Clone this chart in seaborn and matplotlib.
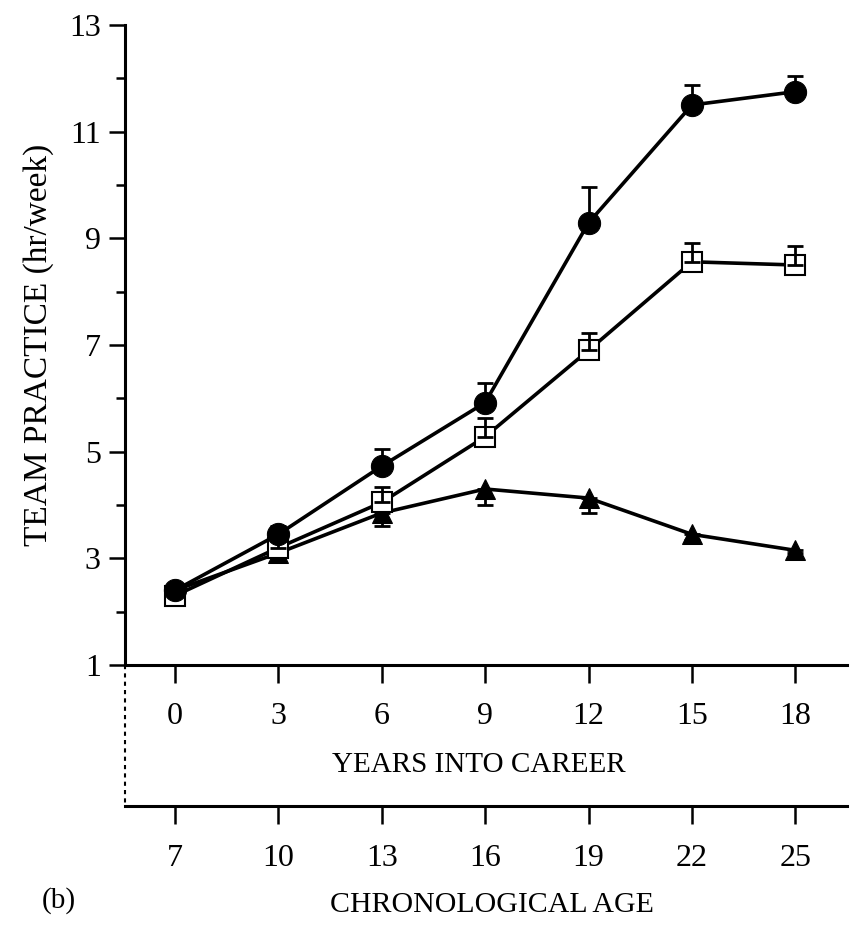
import matplotlib
matplotlib.use("Agg")
import matplotlib.pyplot as plt
import seaborn as sns
import pandas as pd

# Data
years = [0, 3, 6, 9, 12, 15, 18]
age_offset = 7
circles = [2.4, 3.45, 4.73, 5.92, 9.29, 11.5, 11.75]
circles_err_up = [0.1, 0.15, 0.32, 0.37, 0.67, 0.37, 0.3]
squares = [2.3, 3.2, 4.05, 5.28, 6.9, 8.56, 8.5]
squares_err_up = [0.1, 0.12, 0.28, 0.35, 0.33, 0.35, 0.36]
triangles = [2.4, 3.1, 3.85, 4.3, 4.13, 3.45, 3.15]
triangles_err_down = [0.1, 0.1, 0.25, 0.3, 0.28, 0.1, 0.05]

sns.set_style("ticks")
plt.rcParams["font.family"] = ["Liberation Serif", "DejaVu Serif"]
plt.rcParams["text.color"] = "black"
plt.rcParams["axes.labelcolor"] = "black"
plt.rcParams["xtick.color"] = "black"
plt.rcParams["ytick.color"] = "black"

W, H = 853, 925
fig = plt.figure(figsize=(W / 100, H / 100), dpi=100)
left, right, top, bottom = 125, 847, 25, 665
ax = fig.add_axes([left / W, 1 - bottom / H, (right - left) / W, (bottom - top) / H])

df = pd.DataFrame({"years": years, "circles": circles, "squares": squares, "triangles": triangles})

# Lines and markers
sns.lineplot(data=df, x="years", y="triangles", ax=ax, color="black", lw=2.6,
             marker="^", markersize=14, markeredgecolor="black", zorder=3)
sns.lineplot(data=df, x="years", y="squares", ax=ax, color="black", lw=2.6,
             marker="s", markersize=14, markerfacecolor="white", markeredgecolor="black",
             markeredgewidth=1.5, zorder=4)
sns.lineplot(data=df, x="years", y="circles", ax=ax, color="black", lw=2.6,
             marker="o", markersize=16, markeredgecolor="black", zorder=5)

# One-sided error bars
zeros = [0] * len(years)
ax.errorbar(years, circles, yerr=[zeros, circles_err_up], fmt="none", ecolor="black",
            elinewidth=2, capsize=6, capthick=2, zorder=5)
ax.errorbar(years, squares, yerr=[zeros, squares_err_up], fmt="none", ecolor="black",
            elinewidth=2, capsize=6, capthick=2, zorder=4)
ax.errorbar(years, triangles, yerr=[triangles_err_down, zeros], fmt="none", ecolor="black",
            elinewidth=2, capsize=6, capthick=2, zorder=3)

ax.set_xlim(-1.45, 19.5)
ax.set_ylim(1, 13)
ax.set_xticks(years)
ax.set_yticks([1, 3, 5, 7, 9, 11, 13])
ax.set_yticks([2, 4, 6, 8, 10, 12], minor=True)
ax.set_xlabel("")
ax.set_ylabel("TEAM PRACTICE (hr/week)", fontsize=24)
ax.yaxis.set_label_coords(-0.098, 0.5)

for s in ["top", "right"]:
    ax.spines[s].set_visible(False)
for s in ["left", "bottom"]:
    ax.spines[s].set_linewidth(2.2)
    ax.spines[s].set_color("black")

ax.tick_params(axis="x", direction="out", length=13, width=1.8, pad=14, labelsize=23)
ax.tick_params(axis="y", which="major", direction="out", length=11.5, width=1.8, pad=6, labelsize=23)
ax.tick_params(axis="y", which="minor", direction="out", length=6.5, width=1.8)

# Second axis: chronological age
sec_loc = -(806 - bottom) / (bottom - top)
sec = ax.secondary_xaxis(sec_loc, functions=(lambda x: x + age_offset, lambda x: x - age_offset))
sec.set_xticks([y + age_offset for y in years])
sec.spines["bottom"].set_linewidth(2.2)
sec.spines["bottom"].set_color("black")
sec.tick_params(axis="x", direction="out", length=13, width=1.8, pad=14, labelsize=23)

# Dotted connector between the two axes
ax.plot([0, 0], [0, sec_loc], transform=ax.transAxes, color="black", lw=1.5,
        ls=(0, (2, 2)), clip_on=False)

# Axis titles
ax.text((332 - left) / (right - left), -(765 - bottom) / (bottom - top), "YEARS INTO CAREER",
        transform=ax.transAxes, ha="left", va="center", fontsize=21)
ax.text((330 - left) / (right - left), -(905 - bottom) / (bottom - top), "CHRONOLOGICAL AGE",
        transform=ax.transAxes, ha="left", va="center", fontsize=21.5)
fig.text(59 / W, 1 - 901 / H, "(b)", ha="center", va="center", fontsize=21)

fig.savefig("out.png", dpi=100)
